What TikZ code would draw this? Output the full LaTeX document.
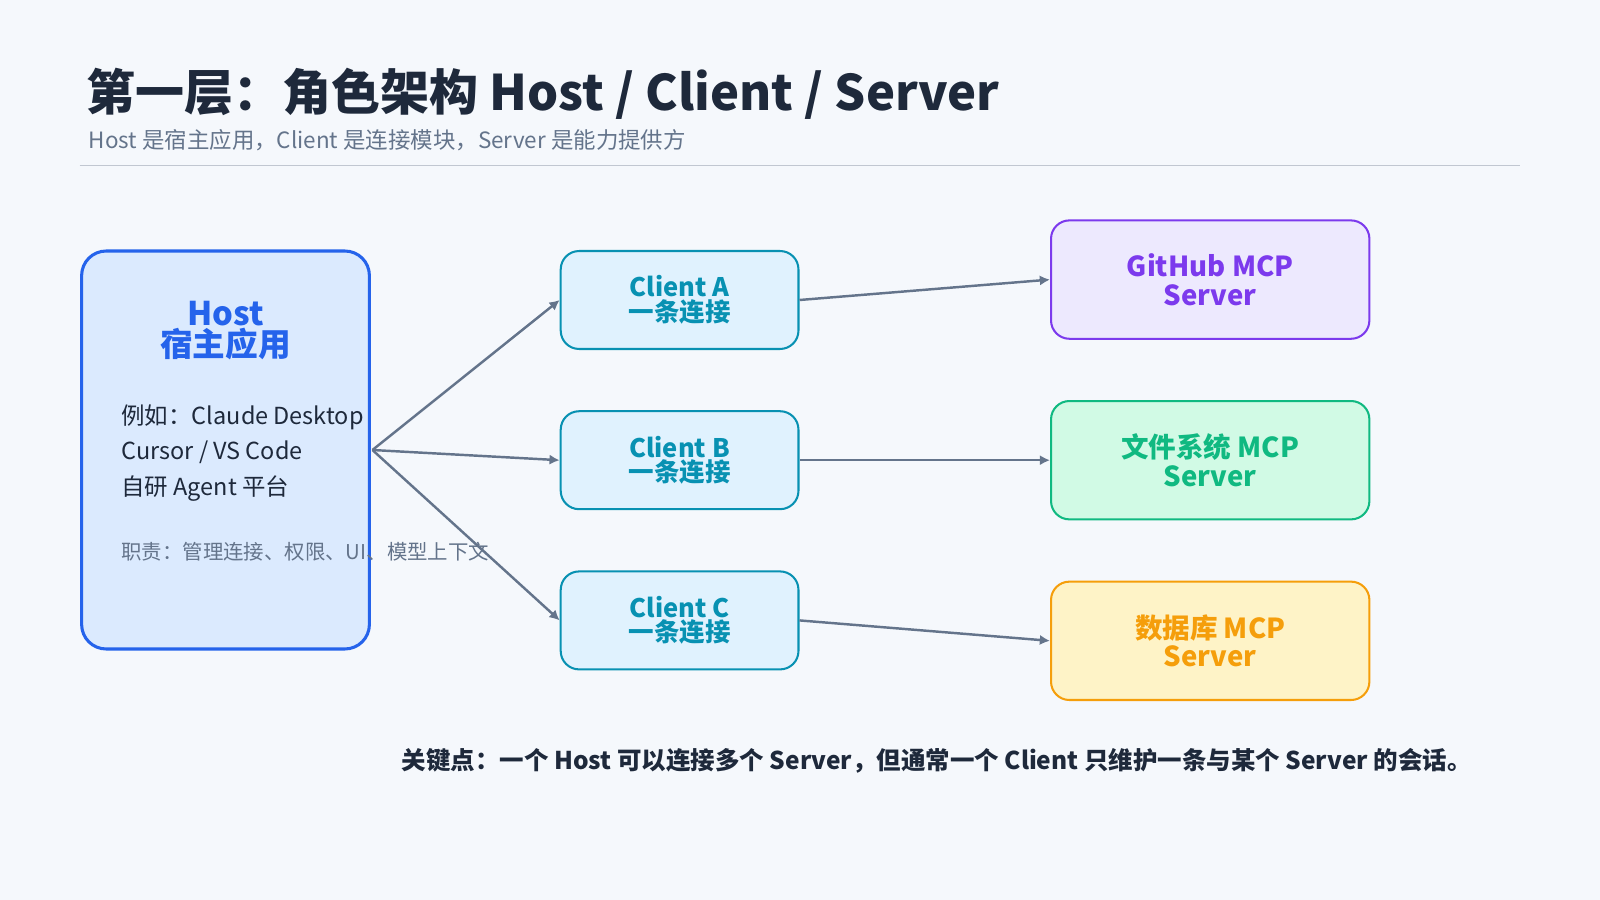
\documentclass[tikz,border=0pt]{standalone}
\usepackage{fontspec}
\setmainfont{Noto Sans CJK SC}
\usetikzlibrary{arrows.meta,positioning}
\definecolor{bgc}{HTML}{F5F8FC}
\definecolor{hostfill}{HTML}{DBEAFE}
\definecolor{hostdraw}{HTML}{2563EB}
\definecolor{clifill}{HTML}{E0F2FE}
\definecolor{clidraw}{HTML}{0891B2}
\definecolor{ghfill}{HTML}{EDE9FE}
\definecolor{ghdraw}{HTML}{7C3AED}
\definecolor{fsfill}{HTML}{D1FAE5}
\definecolor{fsdraw}{HTML}{10B981}
\definecolor{dbfill}{HTML}{FEF3C7}
\definecolor{dbdraw}{HTML}{F59E0B}
\definecolor{arr}{HTML}{64748B}
\definecolor{ink}{HTML}{1E293B}
\begin{document}
\begin{tikzpicture}
  [
    x=0.5pt, y=-0.5pt,
    Client/.style={rectangle, rounded corners=9pt, draw=clidraw, fill=clifill, line width=1pt, minimum width=116.5pt, minimum height=48pt, align=center, text=clidraw, font=\fontsize{12.5}{12}\selectfont\bfseries},
    Server/.style={rectangle, rounded corners=9pt, line width=1pt, minimum width=156pt, minimum height=58pt, align=center, font=\fontsize{13.5}{14}\selectfont\bfseries},
    Link/.style={-{Latex[length=5pt,width=5pt]}, draw=arr, line width=1.2pt}
  ]
  \fill[bgc] (0,0) rectangle (1568,882);
  % Title
  \node[anchor=west, text=ink, font=\fontsize{24}{26}\selectfont\bfseries] (title) at (78,92) {第一层：角色架构 Host / Client / Server};
  \node[anchor=west, text=arr, font=\fontsize{11}{12}\selectfont] (sub) at (80,137) {Host 是宿主应用，Client 是连接模块，Server 是能力提供方};
  \draw[draw=arr!40, line width=0.6pt] (78,162) -- (1490,162);

  % Host
  \node[rectangle, rounded corners=12pt, draw=hostdraw, fill=hostfill, line width=1.5pt, minimum width=141pt, minimum height=195pt] (host) at (221,441) {};
  \node[text=hostdraw, align=center, font=\fontsize{16}{15}\selectfont\bfseries] (hosttitle) at (221,324) {Host\\宿主应用};
  \node[anchor=west, text=ink, align=left, font=\fontsize{11.5}{17.3}\selectfont] (hostex) at (112,444) {例如：Claude Desktop\\Cursor / VS Code\\自研 Agent 平台};
  \node[anchor=west, text=arr, font=\fontsize{10}{12}\selectfont] (hostduty) at (112,541) {职责：管理连接、权限、UI、模型上下文};
  \coordinate (hub) at (365,441);

  % Clients
  \node[Client] (ca) at (666,294) {Client A\\一条连接};
  \node[Client] (cb) at (666,451) {Client B\\一条连接};
  \node[Client] (cc) at (666,608) {Client C\\一条连接};

  % Servers
  \node[Server, draw=ghdraw, fill=ghfill, text=ghdraw] (gh) at (1186,274) {GitHub MCP\\Server};
  \node[Server, draw=fsdraw, fill=fsfill, text=fsdraw] (fs) at (1186,451) {文件系统 MCP\\Server};
  \node[Server, draw=dbdraw, fill=dbfill, text=dbdraw] (db) at (1186,628) {数据库 MCP\\Server};

  % Lines
  \draw[Link] (hub) -- (ca.west);
  \draw[Link] (hub) -- (cb.west);
  \draw[Link] (hub) -- (cc.west);
  \draw[Link] (ca.east) -- (gh.west);
  \draw[Link] (cb.east) -- (fs.west);
  \draw[Link] (cc.east) -- (db.west);

  \node[text=ink, font=\fontsize{12}{12}\selectfont\bfseries] (key) at (918,746) {关键点：一个 Host 可以连接多个 Server，但通常一个 Client 只维护一条与某个 Server 的会话。};
\end{tikzpicture}
\end{document}
